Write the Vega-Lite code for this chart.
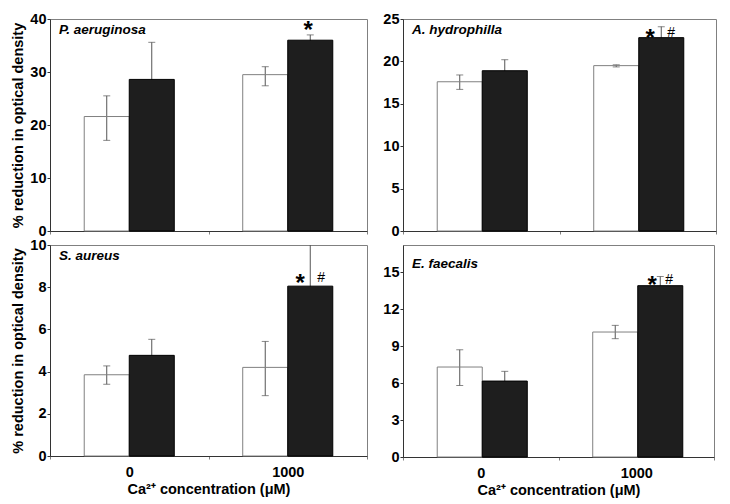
{
  "$schema": "https://vega.github.io/schema/vega-lite/v6.json",
  "padding": {"left": 10, "top": 10, "right": 5, "bottom": 5},
  "background": "white",
  "datasets": {
    "d": [
      {"species": "P. aeruginosa", "ca": "0", "treat": "control", "mean": 21.6, "lo": 17.1, "hi": 25.5},
      {"species": "P. aeruginosa", "ca": "0", "treat": "treated", "mean": 28.6, "lo": 21.6, "hi": 35.6},
      {"species": "P. aeruginosa", "ca": "1000", "treat": "control", "mean": 29.5, "lo": 27.4, "hi": 31.0},
      {"species": "P. aeruginosa", "ca": "1000", "treat": "treated", "mean": 36.0, "lo": 35.0, "hi": 37.0},
      {"species": "A. hydrophilla", "ca": "0", "treat": "control", "mean": 17.6, "lo": 16.7, "hi": 18.4},
      {"species": "A. hydrophilla", "ca": "0", "treat": "treated", "mean": 18.9, "lo": 17.6, "hi": 20.2},
      {"species": "A. hydrophilla", "ca": "1000", "treat": "control", "mean": 19.5, "lo": 19.35, "hi": 19.6},
      {"species": "A. hydrophilla", "ca": "1000", "treat": "treated", "mean": 22.8, "lo": 21.5, "hi": 24.1},
      {"species": "S. aureus", "ca": "0", "treat": "control", "mean": 3.85, "lo": 3.4, "hi": 4.27},
      {"species": "S. aureus", "ca": "0", "treat": "treated", "mean": 4.77, "lo": 4.0, "hi": 5.53},
      {"species": "S. aureus", "ca": "1000", "treat": "control", "mean": 4.2, "lo": 2.86, "hi": 5.43},
      {"species": "S. aureus", "ca": "1000", "treat": "treated", "mean": 8.05, "lo": 5.5, "hi": 10.8},
      {"species": "E. faecalis", "ca": "0", "treat": "control", "mean": 7.3, "lo": 5.8, "hi": 8.7},
      {"species": "E. faecalis", "ca": "0", "treat": "treated", "mean": 6.16, "lo": 5.4, "hi": 6.95},
      {"species": "E. faecalis", "ca": "1000", "treat": "control", "mean": 10.14, "lo": 9.6, "hi": 10.68},
      {"species": "E. faecalis", "ca": "1000", "treat": "treated", "mean": 13.9, "lo": 13.15, "hi": 14.65}
    ]
  },
  "vconcat": [
    {
      "hconcat": [
        {
          "width": 317, "height": 212,
          "data": {"name": "d"},
          "transform": [{"filter": "datum.species == 'P. aeruginosa'"}],
          "title": {"text": "P. aeruginosa", "anchor": "start", "frame": "group", "orient": "top", "offset": -25, "dx": 9, "baseline": "top", "fontSize": 13.5, "fontStyle": "italic", "fontWeight": "bold", "font": "Liberation Sans", "color": "#000"},
          "encoding": {
            "x": {"field": "ca", "type": "nominal", "sort": ["0", "1000"], "scale": {"paddingInner": 0, "paddingOuter": 0}, "axis": {"labels": false, "title": null, "tickBand": "extent", "tickColor": "#808080", "tickSize": 3}},
            "xOffset": {"field": "treat", "type": "nominal", "sort": ["control", "treated"], "scale": {"paddingInner": 0, "paddingOuter": 0.76}}
          },
          "layer": [
            {"mark": {"type": "rule", "color": "#555555", "clip": true}, "encoding": {"y": {"field": "lo", "type": "quantitative", "scale": {"domain": [0, 40], "nice": false}, "axis": {"values": [0, 10, 20, 30, 40], "title": "% reduction in optical density"}}, "y2": {"field": "hi"}}},
            {"mark": {"type": "tick", "color": "#555555", "size": 7, "thickness": 1, "clip": true}, "encoding": {"y": {"field": "hi", "type": "quantitative"}}},
            {"mark": {"type": "tick", "color": "#555555", "size": 7, "thickness": 1, "clip": true}, "encoding": {"y": {"field": "lo", "type": "quantitative"}}},
            {
              "mark": {"type": "bar", "strokeWidth": 1},
              "encoding": {
                "y": {"field": "mean", "type": "quantitative"},
                "fill": {"field": "treat", "type": "nominal", "scale": {"domain": ["control", "treated"], "range": ["#ffffff", "#1e1e1e"]}, "legend": null},
                "fillOpacity": {"field": "treat", "type": "nominal", "scale": {"domain": ["control", "treated"], "range": [0, 1]}, "legend": null},
                "stroke": {"field": "treat", "type": "nominal", "scale": {"domain": ["control", "treated"], "range": ["#808080", "#000000"]}, "legend": null}
              }
            },
            {
              "transform": [{"filter": "datum.ca == '1000' && datum.treat == 'treated'"}],
              "mark": {"type": "text", "text": "*", "fontSize": 24, "fontWeight": "bold", "font": "Liberation Sans", "color": "#000", "baseline": "alphabetic", "dx": -2, "dy": -2},
              "encoding": {"y": {"field": "mean", "type": "quantitative"}}
            }
          ]
        },
        {
          "width": 313, "height": 212,
          "data": {"name": "d"},
          "transform": [{"filter": "datum.species == 'A. hydrophilla'"}],
          "title": {"text": "A. hydrophilla", "anchor": "start", "frame": "group", "orient": "top", "offset": -25, "dx": 9, "baseline": "top", "fontSize": 13.5, "fontStyle": "italic", "fontWeight": "bold", "font": "Liberation Sans", "color": "#000"},
          "encoding": {
            "x": {"field": "ca", "type": "nominal", "sort": ["0", "1000"], "scale": {"paddingInner": 0, "paddingOuter": 0}, "axis": {"labels": false, "title": null, "tickBand": "extent", "tickColor": "#808080", "tickSize": 3}},
            "xOffset": {"field": "treat", "type": "nominal", "sort": ["control", "treated"], "scale": {"paddingInner": 0, "paddingOuter": 0.76}}
          },
          "layer": [
            {"mark": {"type": "rule", "color": "#555555", "clip": true}, "encoding": {"y": {"field": "lo", "type": "quantitative", "scale": {"domain": [0, 25], "nice": false}, "axis": {"values": [0, 5, 10, 15, 20, 25], "title": null}}, "y2": {"field": "hi"}}},
            {"mark": {"type": "tick", "color": "#555555", "size": 7, "thickness": 1, "clip": true}, "encoding": {"y": {"field": "hi", "type": "quantitative"}}},
            {"mark": {"type": "tick", "color": "#555555", "size": 7, "thickness": 1, "clip": true}, "encoding": {"y": {"field": "lo", "type": "quantitative"}}},
            {
              "mark": {"type": "bar", "strokeWidth": 1},
              "encoding": {
                "y": {"field": "mean", "type": "quantitative"},
                "fill": {"field": "treat", "type": "nominal", "scale": {"domain": ["control", "treated"], "range": ["#ffffff", "#1e1e1e"]}, "legend": null},
                "fillOpacity": {"field": "treat", "type": "nominal", "scale": {"domain": ["control", "treated"], "range": [0, 1]}, "legend": null},
                "stroke": {"field": "treat", "type": "nominal", "scale": {"domain": ["control", "treated"], "range": ["#808080", "#000000"]}, "legend": null}
              }
            },
            {
              "transform": [{"filter": "datum.ca == '1000' && datum.treat == 'treated'"}],
              "mark": {"type": "text", "text": "*", "fontSize": 24, "fontWeight": "bold", "font": "Liberation Sans", "color": "#000", "baseline": "alphabetic", "dx": -11, "dy": 8},
              "encoding": {"y": {"field": "mean", "type": "quantitative"}}
            },
            {
              "transform": [{"filter": "datum.ca == '1000' && datum.treat == 'treated'"}],
              "mark": {"type": "text", "text": "#", "fontSize": 14, "font": "Liberation Sans", "color": "#000", "baseline": "alphabetic", "dx": 10, "dy": -1},
              "encoding": {"y": {"field": "mean", "type": "quantitative"}}
            }
          ]
        }
      ]
    },
    {
      "hconcat": [
        {
          "width": 317, "height": 211,
          "data": {"name": "d"},
          "transform": [{"filter": "datum.species == 'S. aureus'"}],
          "title": {"text": "S. aureus", "anchor": "start", "frame": "group", "orient": "top", "offset": -25, "dx": 9, "baseline": "top", "fontSize": 13.5, "fontStyle": "italic", "fontWeight": "bold", "font": "Liberation Sans", "color": "#000"},
          "encoding": {
            "x": {"field": "ca", "type": "nominal", "sort": ["0", "1000"], "scale": {"paddingInner": 0, "paddingOuter": 0}, "axis": {"title": "Ca²⁺ concentration (μM)", "tickBand": "extent", "tickColor": "#808080", "tickSize": 3, "labelAngle": 0, "labelPadding": 6}},
            "xOffset": {"field": "treat", "type": "nominal", "sort": ["control", "treated"], "scale": {"paddingInner": 0, "paddingOuter": 0.76}}
          },
          "layer": [
            {"mark": {"type": "rule", "color": "#555555", "clip": true}, "encoding": {"y": {"field": "lo", "type": "quantitative", "scale": {"domain": [0, 10], "nice": false}, "axis": {"values": [0, 2, 4, 6, 8, 10], "title": "% reduction in optical density"}}, "y2": {"field": "hi"}}},
            {"mark": {"type": "tick", "color": "#555555", "size": 7, "thickness": 1, "clip": true}, "encoding": {"y": {"field": "hi", "type": "quantitative"}}},
            {"mark": {"type": "tick", "color": "#555555", "size": 7, "thickness": 1, "clip": true}, "encoding": {"y": {"field": "lo", "type": "quantitative"}}},
            {
              "mark": {"type": "bar", "strokeWidth": 1},
              "encoding": {
                "y": {"field": "mean", "type": "quantitative"},
                "fill": {"field": "treat", "type": "nominal", "scale": {"domain": ["control", "treated"], "range": ["#ffffff", "#1e1e1e"]}, "legend": null},
                "fillOpacity": {"field": "treat", "type": "nominal", "scale": {"domain": ["control", "treated"], "range": [0, 1]}, "legend": null},
                "stroke": {"field": "treat", "type": "nominal", "scale": {"domain": ["control", "treated"], "range": ["#808080", "#000000"]}, "legend": null}
              }
            },
            {
              "transform": [{"filter": "datum.ca == '1000' && datum.treat == 'treated'"}],
              "mark": {"type": "text", "text": "*", "fontSize": 24, "fontWeight": "bold", "font": "Liberation Sans", "color": "#000", "baseline": "alphabetic", "dx": -10, "dy": 5},
              "encoding": {"y": {"field": "mean", "type": "quantitative"}}
            },
            {
              "transform": [{"filter": "datum.ca == '1000' && datum.treat == 'treated'"}],
              "mark": {"type": "text", "text": "#", "fontSize": 14, "font": "Liberation Sans", "color": "#000", "baseline": "alphabetic", "dx": 11, "dy": -4},
              "encoding": {"y": {"field": "mean", "type": "quantitative"}}
            }
          ]
        },
        {
          "width": 311, "height": 212,
          "data": {"name": "d"},
          "transform": [{"filter": "datum.species == 'E. faecalis'"}],
          "title": {"text": "E. faecalis", "anchor": "start", "frame": "group", "orient": "top", "offset": -25, "dx": 9, "baseline": "top", "fontSize": 13.5, "fontStyle": "italic", "fontWeight": "bold", "font": "Liberation Sans", "color": "#000"},
          "encoding": {
            "x": {"field": "ca", "type": "nominal", "sort": ["0", "1000"], "scale": {"paddingInner": 0, "paddingOuter": 0}, "axis": {"title": "Ca²⁺ concentration (μM)", "tickBand": "extent", "tickColor": "#808080", "tickSize": 3, "labelAngle": 0, "labelPadding": 6}},
            "xOffset": {"field": "treat", "type": "nominal", "sort": ["control", "treated"], "scale": {"paddingInner": 0, "paddingOuter": 0.76}}
          },
          "layer": [
            {"mark": {"type": "rule", "color": "#555555", "clip": true}, "encoding": {"y": {"field": "lo", "type": "quantitative", "scale": {"domain": [0, 17.2], "nice": false}, "axis": {"values": [0, 3, 6, 9, 12, 15], "title": null}}, "y2": {"field": "hi"}}},
            {"mark": {"type": "tick", "color": "#555555", "size": 7, "thickness": 1, "clip": true}, "encoding": {"y": {"field": "hi", "type": "quantitative"}}},
            {"mark": {"type": "tick", "color": "#555555", "size": 7, "thickness": 1, "clip": true}, "encoding": {"y": {"field": "lo", "type": "quantitative"}}},
            {
              "mark": {"type": "bar", "strokeWidth": 1},
              "encoding": {
                "y": {"field": "mean", "type": "quantitative"},
                "fill": {"field": "treat", "type": "nominal", "scale": {"domain": ["control", "treated"], "range": ["#ffffff", "#1e1e1e"]}, "legend": null},
                "fillOpacity": {"field": "treat", "type": "nominal", "scale": {"domain": ["control", "treated"], "range": [0, 1]}, "legend": null},
                "stroke": {"field": "treat", "type": "nominal", "scale": {"domain": ["control", "treated"], "range": ["#808080", "#000000"]}, "legend": null}
              }
            },
            {
              "transform": [{"filter": "datum.ca == '1000' && datum.treat == 'treated'"}],
              "mark": {"type": "text", "text": "*", "fontSize": 24, "fontWeight": "bold", "font": "Liberation Sans", "color": "#000", "baseline": "alphabetic", "dx": -8, "dy": 7},
              "encoding": {"y": {"field": "mean", "type": "quantitative"}}
            },
            {
              "transform": [{"filter": "datum.ca == '1000' && datum.treat == 'treated'"}],
              "mark": {"type": "text", "text": "#", "fontSize": 14, "font": "Liberation Sans", "color": "#000", "baseline": "alphabetic", "dx": 9, "dy": -2},
              "encoding": {"y": {"field": "mean", "type": "quantitative"}}
            }
          ]
        }
      ],
      "spacing": 14
    }
  ],
  "spacing": -2,
  "config": {
    "font": "Liberation Sans",
    "view": {"stroke": "#808080", "strokeWidth": 1},
    "concat": {"spacing": 14},
    "axis": {
      "labelFont": "Liberation Sans", "labelFontWeight": "bold", "labelFontSize": 14.5, "labelColor": "#000000",
      "titleFont": "Liberation Sans", "titleFontWeight": "bold", "titleFontSize": 14.5, "titleColor": "#000000",
      "domainColor": "#333333", "tickColor": "#333333", "grid": false, "tickSize": 3, "labelPadding": 1
    }
  }
}
